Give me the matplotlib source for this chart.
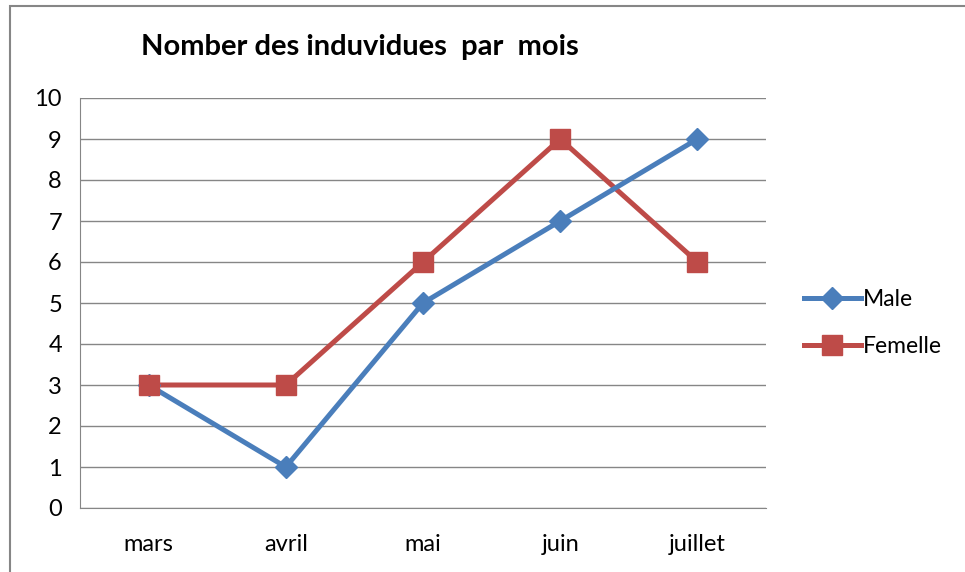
import matplotlib.pyplot as plt
from matplotlib.lines import Line2D
from matplotlib.patches import Rectangle

months = ["mars", "avril", "mai", "juin", "juillet"]
male = [3, 1, 5, 7, 9]
femelle = [3, 3, 6, 9, 6]

blue, red = '#4a7ebb', '#be4b48'

plt.rcParams['font.family'] = ['Lato', 'DejaVu Sans']

fig = plt.figure(figsize=(9.65, 5.72), dpi=100)
ax = fig.add_axes([80/965, 1-508/572, 686/965, 410/572])

x = list(range(len(months)))
# lines first (blue over red), then markers, like Excel does
ax.plot(x, femelle, color=red, lw=3.6, zorder=3)
ax.plot(x, male, color=blue, lw=3.6, zorder=4)
ax.plot(x, male, ls='none', marker='D', ms=11.5, color=blue, zorder=5)
ax.plot(x, femelle, ls='none', marker='s', ms=14, color=red, zorder=6)

ax.set_xlim(-0.5, len(months) - 0.5)
ax.set_ylim(0, 10)
ax.set_yticks(range(0, 11))
ax.set_xticks(x)
ax.set_xticklabels(months)
ax.tick_params(length=0, labelsize=17)
ax.tick_params(axis='x', pad=19)
ax.tick_params(axis='y', pad=13)
ax.grid(axis='y', color='#868686', lw=1)
ax.set_axisbelow(True)
for s in ['top', 'right']:
    ax.spines[s].set_visible(False)
for s in ['left', 'bottom']:
    ax.spines[s].set_color('#868686')

fig.text(360/965, 1-47/572, "Nomber des induvidues  par  mois", ha='center', va='center',
         fontsize=21, fontweight='bold')

handles = [Line2D([], [], color=blue, lw=3.6, marker='D', ms=11.5),
           Line2D([], [], color=red, lw=3.6, marker='s', ms=14)]
fig.legend(handles, ['Male', 'Femelle'], loc='center left', bbox_to_anchor=(783/965, 1-323/572),
           frameon=False, fontsize=16.5, handlelength=2.5, handletextpad=0.1, labelspacing=1.15)

fig.patches.append(Rectangle((10/965, -0.1), 1.2, 0.1 + 1 - 6/572, transform=fig.transFigure,
                             fill=False, ec='#868686', lw=1.5, figure=fig))

fig.savefig("out.png", dpi=100)
